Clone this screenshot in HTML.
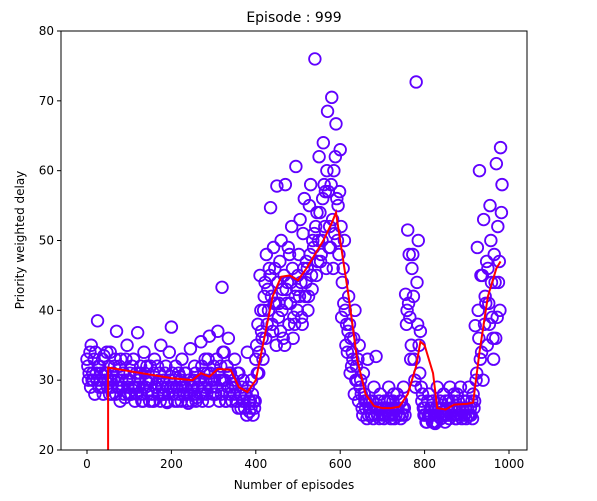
<!DOCTYPE html>
<html><head><meta charset="utf-8"><style>
body{margin:0;background:#fff;}
svg text{font-family:"DejaVu Sans","Liberation Sans",sans-serif;fill:#000;}
</style></head><body>
<svg width="597" height="496" viewBox="0 0 597 496" xmlns="http://www.w3.org/2000/svg" id="svg">
<rect width="597" height="496" fill="#fff"/>
<g id="scatter"></g>
<g id="line"></g>
<rect x="61" y="31" width="466" height="419" fill="none" stroke="#000" stroke-width="1"/>
<g id="axes"></g>
<text x="294" y="22" font-size="14" text-anchor="middle">Episode : 999</text>
<text x="294" y="489" font-size="12" text-anchor="middle">Number of episodes</text>
<text x="24" y="240" font-size="12" text-anchor="middle" transform="rotate(-90 24 240)">Priority weighted delay</text>
</svg>
<script>
const scatterValues = [
33,31,35,30,34,38.5,32,29,33.5,31,
30,34,28,32,37,29,33,31,27.5,35,
30,28,33,29,36.8,31,27,34,30,28.5,
32,27,33,29.5,30,35,28,31,26.8,34,
37.6,29,32,27,30.5,33,28,31,26.7,34.5,
29,32,27.5,30,35.5,28,33,31,36.3,29,
32,28,37,30,43.3,34,27,36,31,29.5,
33,27,31,26,30,28,34,25.5,30,27,
33,38,45,36,42,48,40,54.7,37,46,
57.8,41,50,36,58,44,48,52,39,60.6,
45,53,38,56,47,42,58,50,76,54,
62,48,64,57,68.5,52,70.5,60,66.7,55,
63,44,50,38,42,36,33,40,30,35,
28,31,26,33,27,25,29,33.4,26,28,
25,27,26,29,24.5,27,26,28,25,27,
29,42.3,51.5,39,46,33,72.7,50,37,28,
26,24,28,25,27,23.8,29,26,25,28,
27,25,29,26,28,24.5,27,29,26,25,
27,29,25,28,37.8,49,60,34,53,41,
46,55,39,48,61,44,63.3];
const scatterValuesB = [
32,34,30,33,31,32,30,33,31,34,
32,30,31,33,29,32,30,31,33,29,
31,32,29,31,30,32,29,31,32,30,
30,31,29,32,31,29,30,32,29,30,
31,30,29,31,30,29,31,28,30,29,
30,31,29,30,32,31,30,33,31,30,
30,33,31,32,34,30,32,31,29,30,
29,31,28,29,27,28,29,27,28,26,
35,31,40,33,44,38,46,42,49,41,
44,47,40,45,43,49,41,46,38,43,
48,44,51,42,46,55,45,49,52,47,
54,50,58,46,57,49,53,51,56,48,
52,46,40,34,38,32,36,30,33,29,
26,28,27,25,26,27,25,26,27,26,
26,25,27,25,26,28,25,26,27,25,
26,38,41,33,48,30,44,35,29,26,
25,27,25,26,24,26,25,27,26,25,
26,27,25,27,26,28,26,25,27,26,
26,25,27,26,30,40,33,45,38,47,
41,50,36,44,39,47,54];
const scatterValuesC = [
30,29,31,28,30,29,31,28,30,29,
28,29,30,28,30,27,29,28,30,28,
28,29,27,28,29,28,27,29,28,27,
28,27,29,28,27,29,28,27,28,29,
28,27,29,28,27,28,29,27,28,27,
28,27,29,28,27,29,28,27,30,28,
28,29,27,28,30,27,29,28,27,28,
27,26,28,27,26,25,27,26,25,27,
31,34,37,40,36,43,45,38,41,35,
39,37,43,35,41,38,44,36,42,40,
42,39,46,44,40,48,43,51,45,50,
47,56,52,60,49,58,46,62,50,57,
39,41,35,37,31,34,28,32,27,30,
25,27,24.5,26,25,24.5,26,25,24.5,26,
24.5,26,25,27,25,24.5,26,25,24.5,26,
25,40,48,35,42,29,38,31,27,25,
24,25,26,24,25,24,26,24.5,25,24,
25,24.5,26,25,24.5,25,26,24.5,25,24.5,
25,26,24.5,27,31,36,45,30,42,35,
38,44,33,36,52,40,58];
const scatterStep = 5;
const lineEpisodes = [50,50,100,150,200,250,270,290,310,340,360,380,400,420,440,460,480,500,520,540,560,580,590,600,620,640,660,680,700,720,740,760,780,790,800,820,830,850,870,900,915,930,950,970,980];
const lineValues = [20,31.8,31.3,30.8,30.3,30,31,30.5,31.6,31.5,29,28.3,30,36,42,44.8,45,44.3,46,48,50,52.5,54,50,42,33,28,26.3,26,26,26.2,28,32,35.5,35,31,26,25.8,26.5,26.6,26.8,34,42,46,47];
const xTicks = [0,200,400,600,800,1000];
const yTicks = [20,30,40,50,60,70,80];
const NS='http://www.w3.org/2000/svg';
function X(v){return 87+0.422*v;}
function Y(v){return 450-(v-20)*419/60;}
const sc=document.getElementById('scatter');
function drawSeries(arr,offset){
  arr.forEach((v,i)=>{
    if(v<20||v>80)return;
    const c=document.createElementNS(NS,'circle');
    
    
    c.setAttribute('cx',X(i*scatterStep+offset));c.setAttribute('cy',Y(v));c.setAttribute('r',5.8);
    c.setAttribute('fill','none');c.setAttribute('stroke','#6000ff');c.setAttribute('stroke-width','1.8');
    sc.appendChild(c);
  });
}
drawSeries(scatterValues,0);
drawSeries(scatterValuesB,2);
drawSeries(scatterValuesC,3.5);
const pl=document.createElementNS(NS,'polyline');


pl.setAttribute('points',lineEpisodes.map((e,i)=>X(e)+','+Y(lineValues[i])).join(' '));
pl.setAttribute('fill','none');pl.setAttribute('stroke','#ff0000');pl.setAttribute('stroke-width','2');
document.getElementById('line').appendChild(pl);
const ax=document.getElementById('axes');
xTicks.forEach(t=>{
  const l=document.createElementNS(NS,'line');
  
  
  l.setAttribute('x1',X(t));l.setAttribute('x2',X(t));l.setAttribute('y1',450);l.setAttribute('y2',454);l.setAttribute('stroke','#000');
  ax.appendChild(l);
  const tx=document.createElementNS(NS,'text');
  
  
  tx.setAttribute('x',X(t));tx.setAttribute('y',468);tx.setAttribute('font-size','12');tx.setAttribute('text-anchor','middle');
  tx.textContent=t;ax.appendChild(tx);
});
yTicks.forEach(t=>{
  const l=document.createElementNS(NS,'line');
  
  
  l.setAttribute('x1',57);l.setAttribute('x2',61);l.setAttribute('y1',Y(t));l.setAttribute('y2',Y(t));l.setAttribute('stroke','#000');
  ax.appendChild(l);
  const tx=document.createElementNS(NS,'text');
  
  
  tx.setAttribute('x',54);tx.setAttribute('y',Y(t)+4);tx.setAttribute('font-size','12');tx.setAttribute('text-anchor','end');
  tx.textContent=t;ax.appendChild(tx);
});
</script>
</body></html>
